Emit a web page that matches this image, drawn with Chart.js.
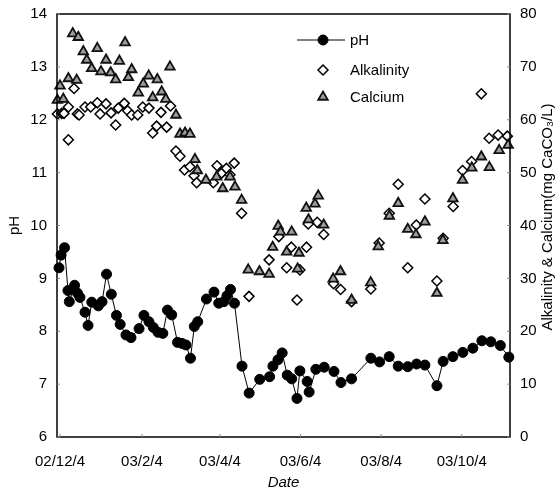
<!DOCTYPE html>
<html>
<head>
<meta charset="utf-8">
<script src="https://cdn.jsdelivr.net/npm/chart.js@4.4.1/dist/chart.umd.min.js"></script>
<style>
  html, body { margin: 0; padding: 0; background: #fff; }
  #wrap { width: 555px; height: 492px; }
</style>
</head>
<body>
<div id="wrap"><canvas id="chart"></canvas></div>
<script>
// x values are days counted from 2002/12/4
const tickDays = [0, 62, 121, 182, 243, 304];
const tickLabels = ["02/12/4", "03/2/4", "03/4/4", "03/6/4", "03/8/4", "03/10/4"];

const phDays = [-0.8, 0.8, 3.4, 6.0, 7.0, 11.0, 13.2, 15.1, 18.9, 21.2, 24.0, 29.0, 31.8, 35.2,
  38.8, 42.7, 45.5, 49.9, 53.7, 59.8, 63.5, 67.3, 70.6, 74.1, 77.8, 81.3, 84.5, 88.9, 92.3,
  95.3, 98.7, 101.6, 104.2, 110.8, 116.5, 120.1, 124.0, 126.3, 129.0, 132.0, 137.7, 143.1,
  151.1, 158.6, 161.1, 164.9, 168.1, 171.9, 175.3, 179.3, 181.5, 187.0, 188.5, 193.6, 199.9,
  207.3, 212.6, 220.6, 235.2, 241.8, 249.1, 255.9, 263.1, 269.8, 276.1, 285.2, 289.9, 297.3,
  304.8, 312.4, 319.2, 326.0, 333.2, 339.6];
const phValues = [9.20, 9.44, 9.58, 8.77, 8.56, 8.87, 8.72, 8.64, 8.36, 8.11, 8.55, 8.48, 8.56, 9.08,
  8.70, 8.30, 8.13, 7.93, 7.88, 8.05, 8.30, 8.18, 8.07, 7.98, 7.96, 8.40, 8.31, 7.79, 7.77,
  7.74, 7.49, 8.09, 8.18, 8.61, 8.74, 8.53, 8.56, 8.67, 8.79, 8.53, 7.34, 6.83,
  7.09, 7.14, 7.34, 7.46, 7.59, 7.17, 7.10, 6.73, 7.25, 7.05, 6.85, 7.28, 7.32,
  7.24, 7.03, 7.10, 7.49, 7.42, 7.52, 7.34, 7.33, 7.38, 7.36, 6.97, 7.43, 7.52,
  7.60, 7.68, 7.82, 7.80, 7.73, 7.51];

const alkDays = [-2.0, 1.3, 3.0, 6.3, 6.3, 10.6, 13.1, 14.4, 18.9, 23.2, 28.2, 30.3, 34.8, 38.6,
  42.1, 44.1, 48.6, 51.2, 54.2, 58.8, 62.6, 67.3, 70.1, 73.1, 76.4, 80.7, 83.6, 87.7, 90.8,
  94.2, 98.3, 101.4, 103.4, 116.0, 118.8, 122.3, 125.9, 128.6, 131.8, 137.4, 143.0, 158.2,
  165.6, 171.5, 175.0, 179.3, 181.5, 186.5, 187.8, 194.6, 199.5, 207.0, 212.3, 220.6, 235.2,
  241.5, 249.1, 255.9, 263.1, 269.6, 276.1, 285.2, 289.9, 297.5, 304.6, 311.4, 318.8, 324.7,
  331.5, 338.5];
const alkValues = [61.1, 61.2, 61.2, 62.4, 56.2, 65.9, 61.1, 60.9, 62.4, 62.4, 63.2, 61.1, 63.0, 61.3,
  59.0, 62.2, 63.1, 61.7, 60.9, 60.9, 62.4, 62.2, 57.5, 58.8, 61.4, 58.6, 62.6, 54.1, 53.1,
  50.5, 51.1, 49.4, 48.1, 48.1, 51.3, 49.9, 50.8, 49.6, 51.8, 42.3, 26.6, 33.5,
  37.9, 32.0, 35.9, 25.9, 31.6, 35.9, 40.3, 40.6, 38.3, 29.0, 27.9, 25.6, 28.0,
  36.7, 42.3, 47.8, 32.0, 40.1, 45.0, 29.5, 37.6, 43.6, 50.4, 52.1, 64.9, 56.5,
  57.1, 56.9];

const caDays = [-2.0, 0.0, 2.5, 6.3, 9.6, 12.6, 13.8, 17.6, 20.2, 23.9, 28.2, 31.0, 34.8, 38.3,
  42.1, 44.9, 49.2, 51.7, 54.2, 59.2, 63.0, 67.1, 70.1, 73.6, 76.9, 80.0, 83.2, 87.7, 90.8,
  94.6, 98.3, 102.1, 103.9, 110.4, 118.5, 123.1, 128.6, 132.4, 137.4, 142.4, 150.9, 158.2,
  160.9, 165.1, 166.8, 171.5, 175.3, 179.8, 180.8, 186.3, 188.0, 192.9, 195.4, 199.5, 206.7,
  212.2, 220.6, 235.1, 240.8, 249.2, 255.9, 263.1, 269.3, 276.1, 285.2, 289.7, 297.3, 304.6,
  311.6, 318.8, 324.9, 332.3, 339.1];
const caValues = [63.7, 66.4, 63.9, 67.8, 76.3, 67.5, 75.6, 72.9, 71.3, 69.7, 73.5, 69.1, 71.3, 68.9,
  67.6, 71.1, 74.6, 68.0, 69.5, 65.1, 66.8, 68.3, 64.2, 67.6, 65.3, 63.9, 70.0, 60.9, 57.3,
  57.5, 57.3, 52.5, 50.4, 48.6, 49.2, 47.0, 49.2, 47.3, 44.8, 31.6, 31.3, 30.8,
  35.9, 39.9, 38.8, 35.0, 38.8, 31.8, 34.8, 43.3, 41.1, 44.1, 45.6, 40.1, 29.9,
  31.3, 25.9, 29.2, 36.0, 41.8, 44.2, 39.3, 38.3, 40.7, 27.2, 37.2, 45.1, 48.6,
  50.9, 53.0, 51.0, 54.2, 55.2];

const toPoints = (xs, ys) => xs.map((x, i) => ({ x: x, y: ys[i] }));
const FONT = "'Liberation Sans', Arial, Helvetica, sans-serif";

// frame, inner tick marks, legend and right axis title
const extras = {
  id: "extras",
  afterDraw(chart) {
    const ctx = chart.ctx;
    const a = chart.chartArea;
    ctx.save();
    ctx.strokeStyle = "#000";
    ctx.lineWidth = 1.5;
    ctx.strokeRect(a.left, a.top, a.right - a.left, a.bottom - a.top);

    ctx.strokeStyle = "#888";
    ctx.lineWidth = 1;
    chart.scales.y.ticks.forEach(t => {
      const py = chart.scales.y.getPixelForValue(t.value);
      ctx.beginPath(); ctx.moveTo(a.left, py); ctx.lineTo(a.left + 3, py); ctx.stroke();
    });
    chart.scales.y2.ticks.forEach(t => {
      const py = chart.scales.y2.getPixelForValue(t.value);
      ctx.beginPath(); ctx.moveTo(a.right, py); ctx.lineTo(a.right - 3, py); ctx.stroke();
    });
    chart.scales.x.ticks.forEach(t => {
      const px = chart.scales.x.getPixelForValue(t.value);
      ctx.beginPath(); ctx.moveTo(px, a.bottom); ctx.lineTo(px, a.bottom - 3); ctx.stroke();
    });

    // legend
    const ds = chart.data.datasets;
    const lx = 323, ly = [40, 70, 97];
    ctx.font = "15px " + FONT;
    ctx.textBaseline = "middle";
    ctx.strokeStyle = "#000";
    ctx.lineWidth = 1;
    ctx.beginPath(); ctx.moveTo(297, ly[0]); ctx.lineTo(345, ly[0]); ctx.stroke();
    ds.forEach((d, i) => {
      ctx.fillStyle = d.pointBackgroundColor;
      ctx.strokeStyle = d.pointBorderColor;
      ctx.lineWidth = d.pointBorderWidth;
      Chart.helpers.drawPoint(ctx, {
        pointStyle: d.pointStyle,
        radius: d.pointRadius,
        borderWidth: d.pointBorderWidth
      }, lx, ly[i]);
      ctx.fillStyle = "#000";
      ctx.fillText(d.label, 350, ly[i] + 1);
    });

    // right axis title, reading bottom to top
    ctx.translate(548, 217);
    ctx.rotate(-Math.PI / 2);
    ctx.textAlign = "center";
    ctx.fillStyle = "#000";
    ctx.fillText("Alkalinity & Calcium(mg CaCO\u2083/L)", 0, 0);
    ctx.restore();
  }
};

new Chart(document.getElementById("chart"), {
  type: "line",
  data: {
    datasets: [
      {
        label: "pH",
        data: toPoints(phDays, phValues),
        yAxisID: "y",
        borderColor: "#000",
        borderWidth: 1,
        pointStyle: "circle",
        pointRadius: 5,
        pointBackgroundColor: "#000",
        pointBorderColor: "#000",
        pointBorderWidth: 1,
        tension: 0,
        clip: false,
        order: 3
      },
      {
        label: "Alkalinity",
        data: toPoints(alkDays, alkValues),
        yAxisID: "y2",
        showLine: false,
        pointStyle: "rectRot",
        pointRadius: 5,
        pointBackgroundColor: "#fff",
        pointBorderColor: "#000",
        pointBorderWidth: 1.5,
        clip: false,
        order: 2
      },
      {
        label: "Calcium",
        data: toPoints(caDays, caValues),
        yAxisID: "y2",
        showLine: false,
        pointStyle: "triangle",
        pointRadius: 5.5,
        pointBackgroundColor: "#9c9c9c",
        pointBorderColor: "#111",
        pointBorderWidth: 1.8,
        clip: false,
        order: 1
      }
    ]
  },
  options: {
    responsive: true,
    maintainAspectRatio: false,
    animation: false,
    layout: { padding: { top: 14, left: 0, right: 0, bottom: 0 } },
    plugins: {
      legend: { display: false },
      tooltip: { enabled: false }
    },
    scales: {
      x: {
        type: "linear",
        min: -2.3,
        max: 340.5,
        afterBuildTicks: axis => { axis.ticks = tickDays.map(v => ({ value: v })); },
        afterFit: scale => { scale.height = 55; },
        grid: { display: false, drawTicks: false },
        border: { display: false },
        ticks: {
          autoSkip: false,
          maxRotation: 0,
          padding: 16,
          color: "#000",
          font: { family: FONT, size: 15 },
          callback: v => tickLabels[tickDays.indexOf(v)]
        },
        title: {
          display: true,
          text: "Date",
          color: "#000",
          padding: { top: 0, bottom: 0 },
          font: { family: FONT, size: 15, style: "italic" }
        }
      },
      y: {
        position: "left",
        min: 6,
        max: 14,
        afterFit: scale => { scale.width = 57; scale.paddingTop = 0; scale.paddingBottom = 0; },
        grid: { display: false, drawTicks: false },
        border: { display: false },
        ticks: {
          stepSize: 1,
          padding: 10,
          color: "#000",
          font: { family: FONT, size: 15 }
        },
        title: {
          display: true,
          text: "pH",
          color: "#000",
          padding: { top: 6, bottom: 0 },
          font: { family: FONT, size: 15 }
        }
      },
      y2: {
        position: "right",
        min: 0,
        max: 80,
        afterFit: scale => { scale.width = 45; scale.paddingTop = 0; scale.paddingBottom = 0; },
        grid: { display: false, drawTicks: false },
        border: { display: false },
        ticks: {
          stepSize: 10,
          padding: 10,
          color: "#000",
          font: { family: FONT, size: 15 }
        }
      }
    }
  },
  plugins: [extras]
});
</script>
</body>
</html>
